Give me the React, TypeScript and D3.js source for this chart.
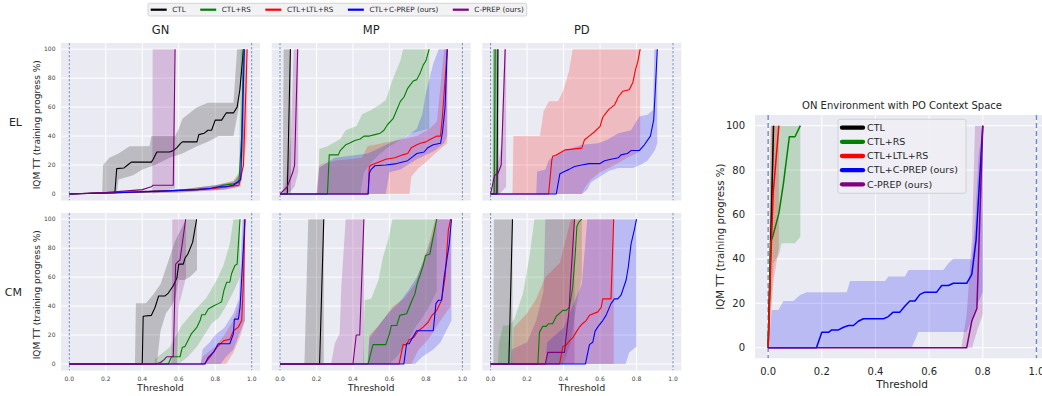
import React, { useEffect, useRef } from 'react';
import * as d3 from 'd3';

type Pt = [number, number];
interface Run { line: Pt[]; hi: Pt[]; lo: Pt[] }

const METHODS = ['CTL', 'CTL+RS', 'CTL+LTL+RS', 'CTL+C-PREP (ours)', 'C-PREP (ours)'];
const COLORS = ['#000000', '#008000', '#ff0000', '#0000ff', '#800080'];
const COL_TITLES = ['GN', 'MP', 'PD'];
const ROW_TITLES = ['EL', 'CM'];
const X_TICKS = [0, 0.2, 0.4, 0.6, 0.8, 1.0];
const Y_TICKS = [0, 20, 40, 60, 80, 100];
const Y_LABEL = 'IQM TT (training progress %)';
const X_LABEL = 'Threshold';
const BIG_TITLE = 'ON Environment with PO Context Space';

// ---- GN / EL
const GN_EL_CTL: Run = {
  line: [[0, 0], [0.1, 0.5], [0.25, 1], [0.26, 17.5], [0.3, 18], [0.32, 20], [0.34, 22], [0.45, 22], [0.46, 24], [0.48, 29], [0.55, 29], [0.57, 30], [0.59, 32], [0.61, 35], [0.62, 36], [0.7, 36], [0.71, 41], [0.74, 42], [0.76, 44], [0.78, 44], [0.8, 51], [0.835, 51], [0.86, 56], [0.9, 56], [0.92, 60], [0.935, 72], [0.955, 100]],
  hi: [[0.18, 0], [0.185, 20], [0.22, 25], [0.27, 28], [0.33, 33], [0.44, 33], [0.45, 40], [0.58, 40], [0.6, 45], [0.62, 52], [0.66, 56], [0.7, 60], [0.76, 63], [0.9, 63], [0.92, 100], [0.955, 100]],
  lo: [[0.18, 0], [0.26, 0], [0.27, 10], [0.35, 13], [0.4, 17], [0.47, 20], [0.55, 25], [0.62, 28], [0.7, 33], [0.76, 36], [0.82, 40], [0.9, 40], [0.93, 60], [0.955, 100]],
};
const GN_EL_RS: Run = {
  line: [[0, 0], [0.3, 1], [0.5, 2], [0.7, 3], [0.78, 4], [0.82, 5], [0.84, 6], [0.9, 7], [0.93, 8], [0.945, 40], [0.955, 100]],
  hi: [[0, 0], [0.3, 2], [0.6, 3], [0.8, 6], [0.9, 9], [0.93, 15], [0.94, 100], [0.955, 100]],
  lo: [[0, 0], [0.5, 1], [0.8, 3], [0.9, 5], [0.94, 8], [0.955, 30]],
};
const GN_EL_LTL: Run = {
  line: [[0, 0], [0.3, 1], [0.5, 2], [0.7, 3], [0.8, 4], [0.86, 5], [0.93, 6], [0.955, 20], [0.975, 100]],
  hi: [[0, 0], [0.3, 2], [0.6, 3], [0.8, 6], [0.9, 9], [0.94, 15], [0.96, 100], [0.975, 100]],
  lo: [[0, 0], [0.6, 1], [0.85, 3], [0.94, 5], [0.975, 40]],
};
const GN_EL_CPC: Run = {
  line: [[0, 0], [0.3, 1], [0.5, 2], [0.7, 3], [0.78, 4], [0.82, 5], [0.86, 5], [0.9, 6], [0.94, 10], [0.96, 100]],
  hi: [[0, 0], [0.3, 2], [0.6, 3], [0.8, 6], [0.9, 8], [0.94, 14], [0.95, 100], [0.96, 100]],
  lo: [[0, 0], [0.6, 1], [0.85, 3], [0.93, 5], [0.96, 40]],
};
const GN_EL_CP: Run = {
  line: [[0, 0], [0.2, 1], [0.3, 2], [0.4, 3], [0.45, 5], [0.46, 6], [0.57, 6], [0.58, 100]],
  hi: [[0.455, 0], [0.457, 100], [0.58, 100]],
  lo: [[0.455, 0], [0.58, 4]],
};

// ---- MP / EL
const MP_EL_CTL: Run = {
  line: [[0, 0], [0.04, 0], [0.057, 100]],
  hi: [[0.015, 0], [0.02, 100], [0.06, 100]],
  lo: [[0.015, 0], [0.06, 0]],
};
const MP_EL_RS: Run = {
  line: [[0, 0], [0.26, 0], [0.27, 27], [0.32, 27], [0.33, 30], [0.36, 34], [0.38, 35], [0.41, 37], [0.44, 38], [0.46, 40], [0.49, 40], [0.52, 41], [0.55, 42], [0.57, 44], [0.59, 48], [0.62, 52], [0.64, 58], [0.66, 64], [0.68, 67], [0.7, 73], [0.73, 78], [0.75, 79], [0.77, 84], [0.785, 89], [0.8, 92], [0.818, 100]],
  hi: [[0.21, 0], [0.215, 31], [0.26, 33], [0.33, 38], [0.36, 44], [0.42, 47], [0.45, 55], [0.5, 58], [0.55, 62], [0.58, 65], [0.62, 80], [0.66, 92], [0.675, 100], [0.818, 100]],
  lo: [[0.21, 0], [0.44, 0], [0.46, 15], [0.5, 22], [0.55, 28], [0.6, 33], [0.65, 37], [0.72, 42], [0.818, 45]],
};
const MP_EL_LTL: Run = {
  line: [[0, 0], [0.483, 0], [0.49, 19], [0.5, 20], [0.55, 22.5], [0.58, 24], [0.63, 25], [0.67, 27], [0.7, 28], [0.72, 32], [0.75, 34], [0.77, 35], [0.8, 36], [0.82, 37.5], [0.86, 40], [0.88, 40], [0.89, 53], [0.905, 79], [0.917, 100]],
  hi: [[0.2, 0], [0.215, 20], [0.3, 23], [0.45, 25], [0.48, 33], [0.6, 36], [0.68, 38], [0.75, 40], [0.82, 45], [0.86, 50], [0.9, 100], [0.917, 100]],
  lo: [[0.2, 0], [0.71, 0], [0.72, 12], [0.76, 18], [0.8, 22], [0.85, 28], [0.917, 35]],
};
const MP_EL_CPC: Run = {
  line: [[0, 0], [0.483, 0], [0.49, 14.5], [0.5, 17], [0.52, 19.5], [0.58, 20], [0.64, 21], [0.7, 23], [0.73, 26], [0.75, 28], [0.79, 29], [0.81, 32], [0.84, 34], [0.88, 35], [0.89, 42], [0.905, 60], [0.917, 100]],
  hi: [[0.2, 0], [0.215, 18], [0.26, 22], [0.3, 25], [0.48, 28], [0.55, 32], [0.6, 35], [0.7, 40], [0.75, 45], [0.78, 55], [0.8, 70], [0.84, 90], [0.87, 100], [0.917, 100]],
  lo: [[0.2, 0], [0.58, 0], [0.6, 15], [0.66, 17], [0.7, 20], [0.75, 24], [0.8, 27], [0.85, 30], [0.9, 35], [0.917, 40]],
};
const MP_EL_CP: Run = {
  line: [[0, 0], [0.04, 5], [0.07, 15], [0.08, 20], [0.097, 100]],
  hi: [[0.02, 0], [0.03, 8], [0.06, 40], [0.075, 100], [0.1, 100]],
  lo: [[0.02, 0], [0.06, 2], [0.08, 5], [0.1, 15]],
};

// ---- PD / EL
const PD_EL_CTL: Run = {
  line: [[0, 0], [0.035, 0], [0.04, 100]],
  hi: [[0.012, 0], [0.015, 100], [0.045, 100]],
  lo: [[0.012, 0], [0.045, 0]],
};
const PD_EL_RS: Run = {
  line: [[0, 0], [0.02, 0], [0.025, 100]],
  hi: [[0.01, 0], [0.012, 100], [0.04, 100]],
  lo: [[0.01, 0], [0.04, 0]],
};
const PD_EL_LTL: Run = {
  line: [[0, 0], [0.318, 0], [0.335, 23], [0.34, 26], [0.36, 27], [0.41, 30.5], [0.5, 31.7], [0.515, 37.5], [0.54, 40], [0.57, 43], [0.6, 46.7], [0.615, 53], [0.633, 56], [0.65, 58.6], [0.68, 61.6], [0.7, 67], [0.725, 71], [0.76, 72], [0.78, 77], [0.794, 85.7], [0.807, 91.5], [0.82, 100]],
  hi: [[0.12, 0], [0.125, 40], [0.27, 40], [0.28, 48], [0.29, 57], [0.32, 64], [0.37, 64], [0.4, 72], [0.43, 85], [0.45, 100], [0.82, 100]],
  lo: [[0.12, 0], [0.5, 0], [0.52, 5], [0.55, 10], [0.6, 15], [0.68, 20], [0.75, 25], [0.8, 28], [0.82, 30]],
};
const PD_EL_CPC: Run = {
  line: [[0, 0], [0.36, 0], [0.38, 14], [0.405, 15.6], [0.43, 17], [0.46, 19], [0.5, 20], [0.54, 21], [0.6, 21], [0.625, 23], [0.66, 24], [0.7, 25], [0.715, 27], [0.75, 28], [0.77, 30], [0.815, 30], [0.843, 34], [0.876, 40], [0.894, 51], [0.903, 72], [0.914, 100]],
  hi: [[0.25, 0], [0.255, 15.6], [0.3, 17], [0.32, 23.7], [0.387, 29], [0.5, 34], [0.59, 35], [0.64, 37.5], [0.7, 42], [0.77, 44], [0.815, 53.6], [0.86, 54.7], [0.89, 58], [0.898, 100], [0.914, 100]],
  lo: [[0.25, 0], [0.5, 0], [0.53, 3], [0.55, 8], [0.6, 12], [0.65, 16], [0.7, 18], [0.78, 18], [0.82, 20], [0.86, 23], [0.9, 30], [0.914, 35]],
};
const PD_EL_CP: Run = {
  line: [[0, 0], [0.022, 13], [0.04, 14], [0.058, 20], [0.08, 100]],
  hi: [[0.01, 0], [0.02, 12], [0.04, 20], [0.06, 35], [0.075, 100], [0.085, 100]],
  lo: [[0.01, 0], [0.05, 0], [0.085, 5]],
};

// ---- GN / CM
const GN_CM_CTL: Run = {
  line: [[0, 0], [0.4, 0], [0.405, 33], [0.45, 33.6], [0.47, 39], [0.49, 47], [0.525, 47], [0.543, 49], [0.57, 54], [0.59, 59.5], [0.6, 69], [0.625, 69], [0.634, 73], [0.65, 76], [0.676, 84], [0.698, 100]],
  hi: [[0.36, 0], [0.365, 42], [0.42, 42], [0.46, 48], [0.5, 55], [0.54, 70], [0.58, 85], [0.62, 95], [0.64, 100], [0.7, 100]],
  lo: [[0.36, 0], [0.48, 0], [0.5, 23], [0.53, 35], [0.56, 40], [0.58, 45], [0.6, 58], [0.63, 58], [0.66, 60], [0.7, 65]],
};
const GN_CM_RS: Run = {
  line: [[0, 0], [0.543, 0], [0.56, 5], [0.607, 5], [0.62, 11.6], [0.634, 12], [0.65, 16], [0.67, 21], [0.7, 25.5], [0.717, 30], [0.726, 34], [0.744, 34], [0.762, 38], [0.79, 40], [0.817, 41.7], [0.835, 43], [0.848, 51], [0.863, 56.5], [0.88, 56.5], [0.89, 62.5], [0.908, 68], [0.92, 69], [0.936, 100]],
  hi: [[0.465, 0], [0.47, 3.5], [0.55, 11.6], [0.616, 26.6], [0.68, 36], [0.753, 46], [0.808, 58], [0.845, 68], [0.88, 83], [0.9, 100], [0.936, 100]],
  lo: [[0.465, 0], [0.6, 0], [0.65, 5], [0.7, 12], [0.75, 22], [0.78, 28], [0.82, 32], [0.86, 40], [0.9, 50], [0.936, 60]],
};
const GN_CM_LTL: Run = {
  line: [[0, 0], [0.74, 0], [0.77, 4.6], [0.81, 11.6], [0.845, 16], [0.88, 17], [0.9, 23], [0.927, 25.5], [0.945, 30], [0.954, 55], [0.963, 100]],
  hi: [[0.72, 0], [0.73, 5], [0.8, 12], [0.85, 20], [0.9, 30], [0.94, 45], [0.955, 100], [0.963, 100]],
  lo: [[0.72, 0], [0.86, 0], [0.9, 8], [0.94, 20], [0.963, 30]],
};
const GN_CM_CPC: Run = {
  line: [[0, 0], [0.744, 0], [0.762, 4.6], [0.79, 8], [0.817, 14], [0.88, 14], [0.9, 21], [0.905, 31], [0.927, 31], [0.936, 39], [0.954, 79], [0.963, 100]],
  hi: [[0.72, 0], [0.73, 10], [0.77, 15], [0.8, 20], [0.85, 25], [0.9, 35], [0.93, 45], [0.95, 100], [0.963, 100]],
  lo: [[0.72, 0], [0.83, 0], [0.86, 5], [0.9, 10], [0.93, 20], [0.963, 30]],
};
const GN_CM_CP: Run = {
  line: [[0, 0], [0.47, 0], [0.5, 1], [0.52, 3], [0.534, 5], [0.57, 5], [0.583, 69], [0.607, 72], [0.638, 100]],
  hi: [[0.56, 0], [0.565, 100], [0.64, 100]],
  lo: [[0.56, 0], [0.59, 0], [0.6, 40], [0.64, 60]],
};

// ---- MP / CM
const MP_CM_CTL: Run = {
  line: [[0, 0], [0.217, 0], [0.24, 100]],
  hi: [[0.134, 0], [0.155, 100], [0.24, 100]],
  lo: [[0.134, 0], [0.24, 0]],
};
const MP_CM_RS: Run = {
  line: [[0, 0], [0.483, 0], [0.51, 13.4], [0.58, 13.4], [0.6, 20.8], [0.61, 26.6], [0.64, 26.6], [0.657, 33.6], [0.694, 34.7], [0.72, 42.8], [0.74, 48.6], [0.752, 55.6], [0.767, 61], [0.785, 68], [0.798, 75], [0.822, 76], [0.84, 88], [0.859, 100]],
  hi: [[0.455, 0], [0.464, 44], [0.5, 45], [0.54, 58], [0.565, 74], [0.593, 86], [0.617, 100], [0.859, 100]],
  lo: [[0.455, 0], [0.6, 0], [0.64, 5], [0.7, 15], [0.74, 25], [0.78, 32], [0.82, 40], [0.859, 50]],
};
const MP_CM_LTL: Run = {
  line: [[0, 0], [0.653, 0], [0.675, 13.4], [0.694, 13.4], [0.708, 16.7], [0.734, 18.5], [0.758, 23], [0.785, 25.5], [0.813, 29], [0.83, 33], [0.859, 37], [0.886, 44], [0.905, 60], [0.923, 92.6], [0.936, 100]],
  hi: [[0.48, 0], [0.49, 20], [0.53, 25], [0.58, 33], [0.62, 40], [0.68, 45], [0.74, 55], [0.78, 70], [0.82, 85], [0.85, 100], [0.936, 100]],
  lo: [[0.48, 0], [0.72, 0], [0.76, 10], [0.8, 15], [0.84, 22], [0.88, 30], [0.936, 40]],
};
const MP_CM_CPC: Run = {
  line: [[0, 0], [0.679, 0], [0.694, 14], [0.708, 14], [0.725, 17.8], [0.749, 23], [0.84, 23], [0.855, 41.7], [0.868, 44], [0.886, 44], [0.9, 60], [0.928, 83], [0.94, 100]],
  hi: [[0.48, 0], [0.49, 18], [0.55, 28], [0.6, 36], [0.65, 42], [0.7, 50], [0.75, 60], [0.8, 75], [0.84, 90], [0.86, 100], [0.94, 100]],
  lo: [[0.48, 0], [0.74, 0], [0.78, 5], [0.84, 10], [0.88, 15], [0.92, 25], [0.94, 30]],
};
const MP_CM_CP: Run = {
  line: [[0, 0], [0.4, 0], [0.418, 20], [0.437, 20], [0.46, 100]],
  hi: [[0.28, 0], [0.3, 14], [0.327, 21], [0.336, 53], [0.36, 100], [0.46, 100]],
  lo: [[0.28, 0], [0.46, 0]],
};

// ---- PD / CM
const PD_CM_CTL: Run = {
  line: [[0, 0], [0.1, 0], [0.12, 100]],
  hi: [[0.015, 0], [0.018, 100], [0.12, 100]],
  lo: [[0.015, 0], [0.12, 0]],
};
const PD_CM_RS: Run = {
  line: [[0, 0], [0.259, 0], [0.268, 22], [0.286, 26], [0.305, 26], [0.318, 27.8], [0.34, 27.8], [0.36, 33], [0.396, 37], [0.414, 37], [0.432, 39], [0.45, 53], [0.464, 76], [0.473, 95], [0.484, 98], [0.5, 100]],
  hi: [[0.04, 0], [0.045, 14], [0.068, 26.6], [0.104, 26.6], [0.13, 31], [0.177, 48.6], [0.213, 74], [0.24, 100], [0.5, 100]],
  lo: [[0.04, 0], [0.4, 0], [0.44, 15], [0.47, 40], [0.5, 60]],
};
const PD_CM_LTL: Run = {
  line: [[0, 0], [0.378, 0], [0.396, 12], [0.414, 13], [0.432, 16], [0.45, 18], [0.469, 22], [0.487, 25.5], [0.505, 28], [0.524, 30], [0.542, 33.6], [0.588, 36], [0.606, 39], [0.615, 45], [0.66, 45], [0.675, 100]],
  hi: [[0.12, 0], [0.125, 25], [0.2, 35], [0.25, 45], [0.3, 60], [0.38, 70], [0.44, 100], [0.675, 100]],
  lo: [[0.12, 0], [0.675, 0]],
};
const PD_CM_CPC: Run = {
  line: [[0, 0], [0.52, 0], [0.542, 13.4], [0.56, 15], [0.573, 22.7], [0.59, 26], [0.615, 30], [0.633, 33.6], [0.66, 41.7], [0.679, 45], [0.697, 45], [0.715, 47.5], [0.743, 58], [0.755, 67], [0.77, 83], [0.788, 92.6], [0.8, 100]],
  hi: [[0.3, 0], [0.31, 15], [0.4, 25], [0.45, 40], [0.5, 55], [0.53, 100], [0.8, 100]],
  lo: [[0.3, 0], [0.74, 0], [0.76, 8], [0.8, 12]],
};
const PD_CM_CP: Run = {
  line: [[0, 0], [0.3, 0], [0.314, 8], [0.405, 8], [0.43, 37], [0.44, 60], [0.46, 100]],
  hi: [[0.11, 0], [0.115, 10], [0.2, 15], [0.25, 30], [0.29, 50], [0.3, 100], [0.46, 100]],
  lo: [[0.11, 0], [0.46, 0]],
};

// ---- ON environment, PO context space
const ON_CTL: Run = {
  line: [[0, 0], [0.02, 100]],
  hi: [[0, 0], [0.018, 100], [0.022, 100]],
  lo: [[0, 0], [0.022, 90]],
};
const ON_RS: Run = {
  line: [[0, 0], [0.01, 48], [0.017, 50], [0.04, 60.5], [0.057, 74], [0.079, 95], [0.1, 95], [0.12, 100]],
  hi: [[0, 0], [0.01, 100], [0.12, 100]],
  lo: [[0, 0], [0.02, 38], [0.04, 42], [0.05, 47], [0.1, 47], [0.12, 50]],
};
const ON_LTL: Run = {
  line: [[0, 0], [0.01, 40], [0.019, 70], [0.04, 100]],
  hi: [[0, 0], [0.01, 100], [0.04, 100]],
  lo: [[0, 0], [0.02, 30], [0.04, 45]],
};
const ON_CPC: Run = {
  line: [[0, 0], [0.18, 0], [0.2, 6.9], [0.225, 6.9], [0.237, 8], [0.262, 8], [0.281, 9.2], [0.3, 10], [0.318, 10], [0.336, 11.9], [0.355, 13], [0.43, 13], [0.448, 14], [0.466, 16], [0.491, 16], [0.51, 18.8], [0.528, 21], [0.547, 21], [0.566, 24], [0.584, 25], [0.628, 25], [0.647, 28], [0.672, 28], [0.69, 29], [0.74, 29], [0.759, 33], [0.775, 48.5], [0.8, 100]],
  hi: [[0, 0], [0.013, 17], [0.038, 17], [0.057, 21], [0.094, 21], [0.119, 23.7], [0.144, 25], [0.293, 25], [0.305, 30], [0.436, 30], [0.448, 32], [0.51, 32], [0.523, 35], [0.653, 35], [0.672, 38], [0.69, 40], [0.759, 40], [0.771, 56], [0.784, 86], [0.8, 100]],
  lo: [[0, 0], [0.535, 0], [0.56, 7], [0.74, 7], [0.753, 11], [0.771, 17], [0.8, 25]],
};
const ON_CP: Run = {
  line: [[0, 0], [0.74, 0], [0.759, 12], [0.778, 17.7], [0.8, 100]],
  hi: [[0.72, 0], [0.74, 15], [0.76, 50], [0.771, 100], [0.8, 100]],
  lo: [[0.72, 0], [0.76, 0], [0.78, 8], [0.8, 15]],
};

const GRID: Run[][][] = [
  [[GN_EL_CTL, GN_EL_RS, GN_EL_LTL, GN_EL_CPC, GN_EL_CP], [MP_EL_CTL, MP_EL_RS, MP_EL_LTL, MP_EL_CPC, MP_EL_CP], [PD_EL_CTL, PD_EL_RS, PD_EL_LTL, PD_EL_CPC, PD_EL_CP]],
  [[GN_CM_CTL, GN_CM_RS, GN_CM_LTL, GN_CM_CPC, GN_CM_CP], [MP_CM_CTL, MP_CM_RS, MP_CM_LTL, MP_CM_CPC, MP_CM_CP], [PD_CM_CTL, PD_CM_RS, PD_CM_LTL, PD_CM_CPC, PD_CM_CP]],
];
const ON_RUNS: Run[] = [ON_CTL, ON_RS, ON_LTL, ON_CPC, ON_CP];

const FONT = 'DejaVu Sans, sans-serif';
const TXT = '#262626';

function drawPanel(root: any, runs: Run[], x: any, y: any, id: string, lw: number, dashW: number, dash: string, dashColor: string) {
  const g = root.append('g');
  const [x0, x1] = x.range();
  const [yb, yt] = y.range();

  g.append('rect')
    .attr('x', x0).attr('y', yt)
    .attr('width', x1 - x0).attr('height', yb - yt)
    .attr('fill', '#eaeaf2');

  g.selectAll('line.gx').data(X_TICKS).join('line')
    .attr('x1', d => x(d)).attr('x2', d => x(d))
    .attr('y1', yt).attr('y2', yb)
    .attr('stroke', '#fff').attr('stroke-width', 1);
  g.selectAll('line.gy').data(Y_TICKS).join('line')
    .attr('x1', x0).attr('x2', x1)
    .attr('y1', d => y(d)).attr('y2', d => y(d))
    .attr('stroke', '#fff').attr('stroke-width', 1);

  root.append('clipPath').attr('id', id)
    .append('rect').attr('x', x0).attr('y', yt).attr('width', x1 - x0).attr('height', yb - yt);
  const plot = g.append('g').attr('clip-path', `url(#${id})`);

  const path = d3.line<Pt>().x(d => x(d[0])).y(d => y(d[1]));

  runs.forEach((r, i) => {
    plot.append('path')
      .attr('d', path([...r.hi, ...r.lo.slice().reverse()]) + 'Z')
      .attr('fill', COLORS[i])
      .attr('fill-opacity', 0.2);
  });

  [0, 1].forEach(v => {
    plot.append('line')
      .attr('x1', x(v)).attr('x2', x(v))
      .attr('y1', yt).attr('y2', yb)
      .attr('stroke', dashColor)
      .attr('stroke-width', dashW)
      .attr('stroke-dasharray', dash);
  });

  runs.forEach((r, i) => {
    plot.append('path')
      .attr('d', path(r.line))
      .attr('fill', 'none')
      .attr('stroke', COLORS[i])
      .attr('stroke-width', lw)
      .attr('stroke-linejoin', 'round');
  });
  return g;
}

export default function App() {
  const svgRef = useRef<SVGSVGElement>(null);

  useEffect(() => {
    const svg = d3.select(svgRef.current);
    svg.selectAll('*').remove();

    // small multiples
    const lefts = [61, 271.7, 482.3];
    const tops = [43, 213];
    const w = 199;
    const h = 157.5;

    GRID.forEach((row, ri) => {
      const y = d3.scaleLinear().domain([-4.5, 104.3]).range([tops[ri] + h, tops[ri]]);
      row.forEach((runs, ci) => {
        const x = d3.scaleLinear().domain([-0.0455, 1.0455]).range([lefts[ci], lefts[ci] + w]);
        drawPanel(svg, runs, x, y, `clip-${ri}-${ci}`, 1.1, 0.8, '2.5,1.5', '#4c6fb0');

        if (ci === 0) {
          svg.append('g').selectAll('text').data(Y_TICKS).join('text')
            .attr('x', lefts[ci] - 5.5)
            .attr('y', d => y(d))
            .attr('dy', '0.35em')
            .attr('text-anchor', 'end')
            .attr('font-size', 6)
            .attr('fill', '#444')
            .text(d => d);

          svg.append('text')
            .attr('transform', `translate(37,${tops[ri] + h / 2 + 3})rotate(-90)`)
            .attr('text-anchor', 'middle')
            .attr('dy', '0.35em')
            .attr('font-size', 9)
            .attr('fill', TXT)
            .text(Y_LABEL);

          svg.append('text')
            .attr('x', 22)
            .attr('y', tops[ri] + h / 2)
            .attr('dy', '0.35em')
            .attr('text-anchor', 'end')
            .attr('font-size', 11)
            .attr('fill', TXT)
            .text(ROW_TITLES[ri]);
        }
        if (ri === 0) {
          svg.append('text')
            .attr('x', lefts[ci] + w / 2)
            .attr('y', 30)
            .attr('dy', '0.35em')
            .attr('text-anchor', 'middle')
            .attr('font-size', 11.5)
            .attr('fill', TXT)
            .text(COL_TITLES[ci]);
        }
        if (ri === 1) {
          svg.append('g').selectAll('text').data(X_TICKS).join('text')
            .attr('x', d => x(d))
            .attr('y', 379)
            .attr('dy', '0.35em')
            .attr('text-anchor', 'middle')
            .attr('font-size', 6)
            .attr('fill', '#444')
            .text(d => d3.format('.1f')(d));

          svg.append('text')
            .attr('x', lefts[ci] + w / 2)
            .attr('y', 388)
            .attr('dy', '0.35em')
            .attr('text-anchor', 'middle')
            .attr('font-size', 9.5)
            .attr('fill', TXT)
            .text(X_LABEL);
        }
      });
    });

    // top legend
    const leg = svg.append('g');
    const box = leg.append('rect')
      .attr('x', 148).attr('y', 3.3).attr('height', 12.7).attr('rx', 1.5)
      .attr('fill', '#f2f2f5').attr('stroke', '#cccccc').attr('stroke-width', 0.8);
    let cx = 150.7;
    METHODS.forEach((m, i) => {
      leg.append('line')
        .attr('x1', cx).attr('x2', cx + 16)
        .attr('y1', 9.7).attr('y2', 9.7)
        .attr('stroke', COLORS[i]).attr('stroke-width', 2.2);
      const t = leg.append('text')
        .attr('x', cx + 21.6).attr('y', 9.7)
        .attr('dy', '0.35em')
        .attr('font-size', 7.2)
        .attr('fill', TXT)
        .text(m);
      const tw = (t.node() as SVGTextElement).getComputedTextLength();
      cx = cx + 21.6 + tw + 14.5;
    });
    box.attr('width', cx - 14.5 + 3 - 148);

    // big panel
    const bx = d3.scaleLinear().domain([-0.049, 1.049]).range([755, 1049.6]);
    const by = d3.scaleLinear().domain([-4.8, 104.8]).range([358.3, 115]);
    drawPanel(svg, ON_RUNS, bx, by, 'clip-on', 1.5, 1.4, '5,3', '#6a8cc7');

    svg.append('g').selectAll('text').data(Y_TICKS).join('text')
      .attr('x', 745)
      .attr('y', d => by(d))
      .attr('dy', '0.35em')
      .attr('text-anchor', 'end')
      .attr('font-size', 10)
      .attr('fill', TXT)
      .text(d => d);
    svg.append('g').selectAll('text').data(X_TICKS).join('text')
      .attr('x', d => bx(d))
      .attr('y', 371)
      .attr('dy', '0.35em')
      .attr('text-anchor', 'middle')
      .attr('font-size', 10)
      .attr('fill', TXT)
      .text(d => d3.format('.1f')(d));
    svg.append('text')
      .attr('x', 902).attr('y', 384).attr('dy', '0.35em')
      .attr('text-anchor', 'middle').attr('font-size', 10.5).attr('fill', TXT)
      .text(X_LABEL);
    svg.append('text')
      .attr('transform', `translate(720,${(115 + 358.3) / 2})rotate(-90)`)
      .attr('dy', '0.35em')
      .attr('text-anchor', 'middle').attr('font-size', 10.2).attr('fill', TXT)
      .text(Y_LABEL);
    svg.append('text')
      .attr('x', 902).attr('y', 105.7).attr('dy', '0.35em')
      .attr('text-anchor', 'middle').attr('font-size', 10).attr('fill', TXT)
      .text(BIG_TITLE);

    const leg2 = svg.append('g');
    leg2.append('rect')
      .attr('x', 838).attr('y', 119.3).attr('width', 128).attr('height', 74).attr('rx', 2)
      .attr('fill', '#eeeef4').attr('fill-opacity', 0.9)
      .attr('stroke', '#cccccc').attr('stroke-width', 0.8);
    METHODS.forEach((m, i) => {
      const ly = 127.7 + i * 14.15;
      leg2.append('line')
        .attr('x1', 842).attr('x2', 863)
        .attr('y1', ly).attr('y2', ly)
        .attr('stroke', COLORS[i]).attr('stroke-width', 4.3)
        .attr('stroke-linecap', 'round');
      leg2.append('text')
        .attr('x', 867).attr('y', ly).attr('dy', '0.35em')
        .attr('font-size', 9.5).attr('fill', TXT)
        .text(m);
    });
  }, []);

  return (
    <svg
      ref={svgRef}
      width={1042}
      height={396}
      style={{ position: 'absolute', left: 0, top: 0, fontFamily: FONT, background: '#fff' }}
    />
  );
}
